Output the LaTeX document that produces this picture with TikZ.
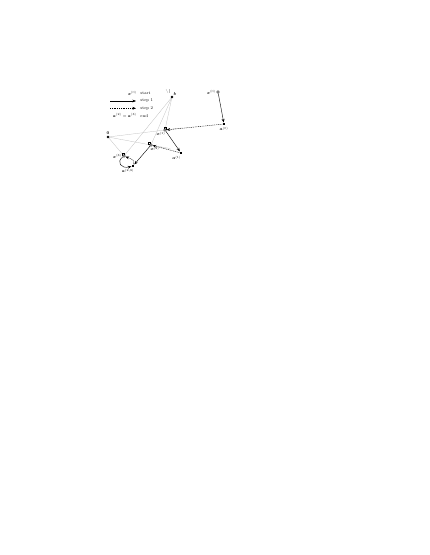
\documentclass[tikz,border=0pt]{standalone}
\usepackage{bm}
\usetikzlibrary{arrows.meta,positioning,calc}

\begin{document}
\begin{tikzpicture}[x=1pt,y=-1pt,
    every node/.style={font=\fontsize{7}{8}\selectfont,inner sep=0.6pt},
    lbl/.style={scale=0.6},
    guide/.style={gray!55,line width=0.25pt},
    stepone/.style={-{Stealth[length=3.6pt,width=2.8pt]},line width=0.4pt},
    steptwo/.style={stepone,dash pattern=on 1pt off 0.8pt},
    dot/.style={circle,fill,inner sep=0pt,minimum size=2.8pt},
    iter/.style={circle,draw,fill=white,inner sep=0pt,minimum size=2.8pt,line width=0.4pt},
    proj/.style={rectangle,fill,inner sep=0pt,minimum size=2.8pt},
    rmark/.style={rectangle,draw,inner sep=0pt,minimum size=2pt,line width=0.3pt}]
\useasboundingbox (0,0) rectangle (429,555);

    % points
    \coordinate (O) at (108,137);
    \coordinate (B) at (172,97);
    \coordinate (X0) at (218,92);
    \coordinate (A0) at (224,124);
    \coordinate (X1) at (165,130);
    \coordinate (A1) at (181,153);
    \coordinate (X2) at (151,145);
    \coordinate (A2) at (133,166);
    \coordinate (X3) at (124,156);

    % guide lines
    \draw[guide] (O) -- (X1) -- ($(O)!1.3!(X1)$);
    \draw[guide] (O) -- (X2) -- ($(O)!1.45!(X2)$);
    \draw[guide] (O) -- (X3);
    \draw[guide] (B) -- (X1);
    \draw[guide] (B) -- (X2);
    \draw[guide] (B) -- (X3);
    \draw[guide] (166,89) -- (168,93);
    \draw[guide] (169,89) -- (169,93);

    % markers
    \node[dot] (o) at (O) {};
    \node[lbl,above=0.5pt of o] (o-label) {$\bm{0}$};
    \node[dot] (b) at (B) {};
    \node[lbl,above right=0pt and 0pt of b] (b-label) {$\bm{b}$};
    \node[iter] (x0) at (X0) {};
    \node[lbl,left=0.3pt of x0] (x0-label) {$\bm{x}^{(0)}$};
    \node[proj] (a0) at (A0) {};
    \node[lbl,below=0.8pt of a0] (a0-label) {$\bm{a}^{(0)}$};
    \node[rmark] (r1) at ($(X1)+(0,-2)$) {};
    \node[iter] (x1) at (X1) {};
    \node[lbl,below left=0.3pt and -2pt of x1] (x1-label) {$\bm{x}^{(1)}$};
    \node[proj] (a1) at (A1) {};
    \node[lbl,below left=0.8pt and -2pt of a1] (a1-label) {$\bm{a}^{(1)}$};
    \node[rmark] (r2) at ($(X2)+(-1.5,-2)$) {};
    \node[iter] (x2) at (X2) {};
    \node[lbl,below right=0.3pt and -2pt of x2] (x2-label) {$\bm{x}^{(2)}$};
    \node[proj] (a2) at (A2) {};
    \node[lbl,below left=0.8pt and -3pt of a2] (a2-label) {$\bm{a}^{(2,3)}$};
    \node[rmark] (r3) at ($(X3)+(-0.5,-2.3)$) {};
    \node[iter] (x3) at (X3) {};
    \node[lbl,left=0.3pt of x3] (x3-label) {$\bm{x}^{(3)}$};

    % iterations
    \draw[stepone] (x0) -- (a0);
    \draw[steptwo] (a0) -- (x1);
    \draw[stepone] (x1) -- (a1);
    \draw[steptwo] (a1) -- (x2);
    \draw[stepone] (x2) -- (a2);
    \draw[steptwo] (a2) .. controls (134,160) .. (x3);
    \draw[stepone] (x3) .. controls (116,162) and (121,169) .. (a2);

    % legend
    \node[lbl,anchor=east] (leg-x0) at (137,93.5) {$\bm{x}^{(0)}$};
    \node[lbl,anchor=west] (leg-start) at (140,93.5) {start};
    \coordinate (s1a) at (110,101);
    \coordinate (s1b) at (136,101);
    \draw[stepone] (s1a) -- (s1b);
    \node[lbl,anchor=west] (leg-s1) at (140,101) {step 1};
    \coordinate (s2a) at (110,108.3);
    \coordinate (s2b) at (136,108.3);
    \draw[steptwo] (s2a) -- (s2b);
    \node[lbl,anchor=west] (leg-s2) at (140,108.3) {step 2};
    \node[lbl,anchor=east] (leg-end-eq) at (137,115.6) {$\bm{a}^{(2)}=\bm{a}^{(3)}$};
    \node[lbl,anchor=west] (leg-end) at (140,115.6) {end};
\end{tikzpicture}
\end{document}
